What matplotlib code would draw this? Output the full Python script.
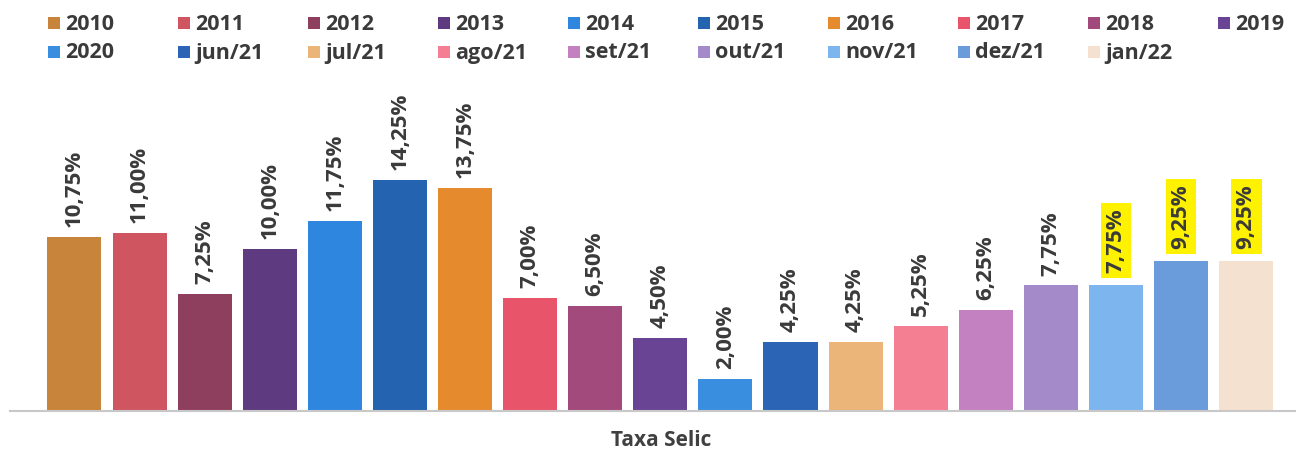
import matplotlib
matplotlib.use("Agg")
import matplotlib.pyplot as plt
from matplotlib.patches import Rectangle

plt.rcParams["font.family"] = ["Open Sans", "DejaVu Sans"]

# dados
periodos = ["2010", "2011", "2012", "2013", "2014", "2015", "2016", "2017", "2018", "2019",
            "2020", "jun/21", "jul/21", "ago/21", "set/21", "out/21", "nov/21", "dez/21", "jan/22"]
selic = [10.75, 11.00, 7.25, 10.00, 11.75, 14.25, 13.75, 7.00, 6.50, 4.50,
         2.00, 4.25, 4.25, 5.25, 6.25, 7.75, 7.75, 9.25, 9.25]
cores = ["#C8843A", "#CF5560", "#8E3F5E", "#5E3A80", "#2E86DE", "#2463B0", "#E58B2E",
         "#E8546A", "#A34A7D", "#6A4494", "#3A8EE0", "#2B64B4", "#EBB479", "#F47F93",
         "#C481C1", "#A58AC9", "#7DB6EE", "#6A9BDB", "#F4E1D0"]
destaque = ["nov/21", "dez/21", "jan/22"]

W, H = 1303, 450
fig = plt.figure(figsize=(W / 100, H / 100), dpi=100)
ax = fig.add_axes([10 / W, (H - 411) / H, 1285 / W, (411 - 91) / H])

x = list(range(len(periodos)))
ax.bar(x, selic, width=0.83, color=cores)

for xi, v, p in zip(x, selic, periodos):
    txt = f"{v:.2f}".replace(".", ",") + "%"
    if p in destaque:
        ax.annotate(txt, (xi, v), xytext=(0, 9), textcoords="offset points",
                    rotation=90, ha="center", va="bottom", fontsize=16,
                    fontweight="bold", color="#3A3A3A",
                    bbox=dict(boxstyle="square,pad=0.22", fc="#FFF200", ec="none"))
    else:
        ax.annotate(txt, (xi, v), xytext=(0, 7), textcoords="offset points",
                    rotation=90, ha="center", va="bottom", fontsize=16,
                    fontweight="bold", color="#3A3A3A")

ax.set_xlim(-0.99, 18.75)
ax.set_ylim(0, 19.75)
for s in ["top", "left", "right"]:
    ax.spines[s].set_visible(False)
ax.spines["bottom"].set_color("#C8C8C8")
ax.spines["bottom"].set_linewidth(1.5)
ax.set_xticks([])
ax.set_yticks([])

# legenda manual (colunas igualmente espacadas)
for i, (p, c) in enumerate(zip(periodos, cores)):
    col, row = i % 10, i // 10
    x0 = 48 + 130 * col
    yc = 23 + 28.5 * row
    fig.patches.append(Rectangle((x0 / W, 1 - (yc + 6) / H), 12 / W, 12 / H,
                                 transform=fig.transFigure, fc=c, ec="none"))
    fig.text((x0 + 17) / W, 1 - (yc + 1.5) / H, p, fontsize=15.5, fontweight="bold",
             color="#3A3A3A", va="center", ha="left")

fig.text(661 / W, 1 - 440 / H, "Taxa Selic", fontsize=15, fontweight="bold",
         color="#404040", ha="center", va="center")

fig.savefig("out.png", dpi=100)
